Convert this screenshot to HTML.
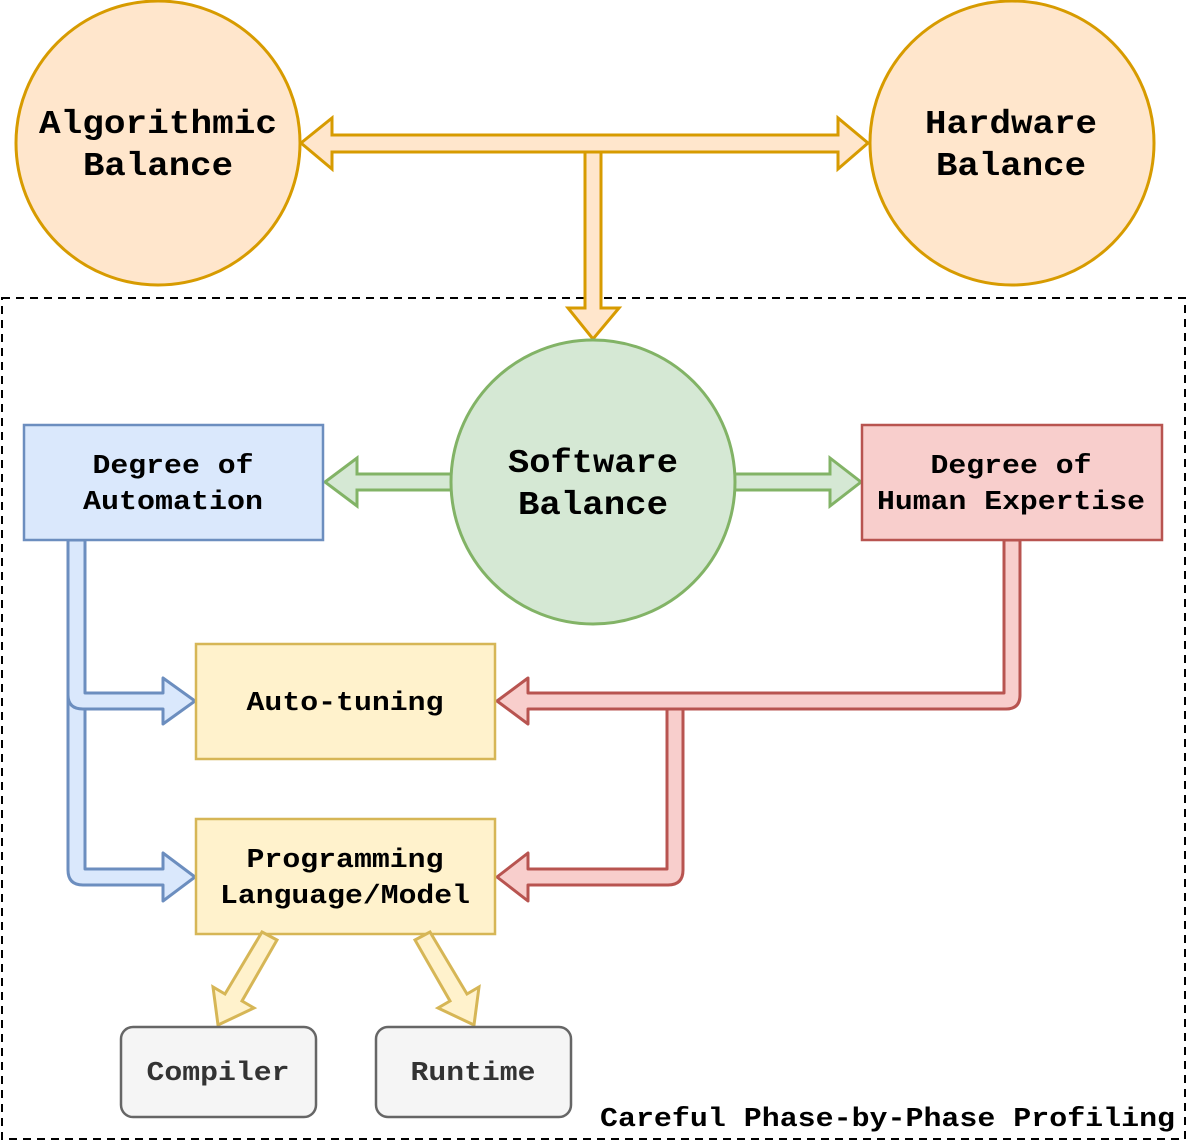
<!DOCTYPE html>
<html><head><meta charset="utf-8"><style>body{margin:0;background:#fff}svg{display:block}text{font-family:"Liberation Mono",monospace;font-weight:bold;fill:#000}</style></head><body>
<svg width="1188" height="1144" viewBox="0 0 1188 1144" xmlns="http://www.w3.org/2000/svg">
<rect x="2" y="298" width="1183" height="841" fill="none" stroke="#000" stroke-width="2" stroke-dasharray="8,6"/>
<g stroke="#d79b00" stroke-width="3" fill="#ffe6cc">
<polygon points="585,150 601,150 601,308 619,308 593,339 568,308 585,308"/>
<polygon points="301,143 332,118 332,135 838,135 838,118 868,143 838,169 838,152 332,152 332,169"/>
</g>
<circle cx="158" cy="143" r="142" fill="#ffe6cc" stroke="#d79b00" stroke-width="3"/>
<circle cx="1012" cy="143" r="142" fill="#ffe6cc" stroke="#d79b00" stroke-width="3"/>
<text x="158" y="133" font-size="33" text-anchor="middle" textLength="238" lengthAdjust="spacingAndGlyphs">Algorithmic</text>
<text x="158" y="175" font-size="33" text-anchor="middle" textLength="150" lengthAdjust="spacingAndGlyphs">Balance</text>
<text x="1011" y="133" font-size="33" text-anchor="middle" textLength="172" lengthAdjust="spacingAndGlyphs">Hardware</text>
<text x="1011" y="175" font-size="33" text-anchor="middle" textLength="150" lengthAdjust="spacingAndGlyphs">Balance</text>
<g stroke="#82b366" stroke-width="3" fill="#d5e8d4">
<polygon points="455,474 357,474 357,458 325,482 357,506 357,490 455,490"/>
<polygon points="731,474 830,474 830,458 861,482 830,506 830,490 731,490"/>
</g>
<circle cx="593" cy="482" r="142" fill="#d5e8d4" stroke="#82b366" stroke-width="3"/>
<text x="593" y="472" font-size="33" text-anchor="middle" textLength="170" lengthAdjust="spacingAndGlyphs">Software</text>
<text x="593" y="514" font-size="33" text-anchor="middle" textLength="150" lengthAdjust="spacingAndGlyphs">Balance</text>
<g stroke="#6c8ebf" stroke-width="3" fill="#dae8fc" stroke-linejoin="round">
<path d="M68,540 L68,870 Q68,885 83,885 L163,885 L163,901 L195,877 L163,853 L163,869 L85,869 L85,540 Z"/>
<path d="M68,540 L68,695 Q68,709 83,709 L163,709 L163,724 L195,701 L163,678 L163,693 L85,693 L85,540 Z"/>
</g>
<g stroke="#b85450" stroke-width="3" fill="#f8cecc" stroke-linejoin="round">
<path d="M683,701 L683,870 Q683,885 668,885 L528,885 L528,901 L497,877 L528,853 L528,869 L667,869 L667,701 Z"/>
<path d="M1004,540 L1004,693 L528,693 L528,678 L497,701 L528,724 L528,709 L1006,709 Q1020,709 1020,695 L1020,540 Z"/>
</g>
<rect x="24" y="425" width="299" height="115" fill="#dae8fc" stroke="#6c8ebf" stroke-width="2.5"/>
<text x="173" y="473" font-size="27" text-anchor="middle" textLength="161" lengthAdjust="spacingAndGlyphs">Degree of</text>
<text x="173" y="509" font-size="27" text-anchor="middle" textLength="180" lengthAdjust="spacingAndGlyphs">Automation</text>
<rect x="862" y="425" width="300" height="115" fill="#f8cecc" stroke="#b85450" stroke-width="2.5"/>
<text x="1011" y="473" font-size="27" text-anchor="middle" textLength="161" lengthAdjust="spacingAndGlyphs">Degree of</text>
<text x="1011" y="509" font-size="27" text-anchor="middle" textLength="268" lengthAdjust="spacingAndGlyphs">Human Expertise</text>
<rect x="196" y="644" width="299" height="115" fill="#fff2cc" stroke="#d6b656" stroke-width="2.5"/>
<text x="345" y="710" font-size="27" text-anchor="middle" textLength="197" lengthAdjust="spacingAndGlyphs">Auto-tuning</text>
<rect x="196" y="819" width="299" height="115" fill="#fff2cc" stroke="#d6b656" stroke-width="2.5"/>
<text x="345" y="867" font-size="27" text-anchor="middle" textLength="197" lengthAdjust="spacingAndGlyphs">Programming</text>
<text x="345" y="903" font-size="27" text-anchor="middle" textLength="250" lengthAdjust="spacingAndGlyphs">Language/Model</text>
<g stroke="#d6b656" stroke-width="3" fill="#fff2cc">
<polygon points="262,932 277,940 242,1001 254,1008 218,1025 213,987 225,994"/>
<polygon points="415,940 430,932 467,994 479,987 474,1025 438,1008 450,1001"/>
</g>
<rect x="121" y="1027" width="195" height="90" rx="12" fill="#f5f5f5" stroke="#666" stroke-width="2.5"/>
<text x="218" y="1080" font-size="27" text-anchor="middle" style="fill:#333" textLength="143" lengthAdjust="spacingAndGlyphs">Compiler</text>
<rect x="376" y="1027" width="195" height="90" rx="12" fill="#f5f5f5" stroke="#666" stroke-width="2.5"/>
<text x="473" y="1080" font-size="27" text-anchor="middle" style="fill:#333" textLength="125" lengthAdjust="spacingAndGlyphs">Runtime</text>
<text x="1175" y="1126" font-size="27" text-anchor="end" textLength="575" lengthAdjust="spacingAndGlyphs">Careful Phase-by-Phase Profiling</text>
</svg>
</body></html>
